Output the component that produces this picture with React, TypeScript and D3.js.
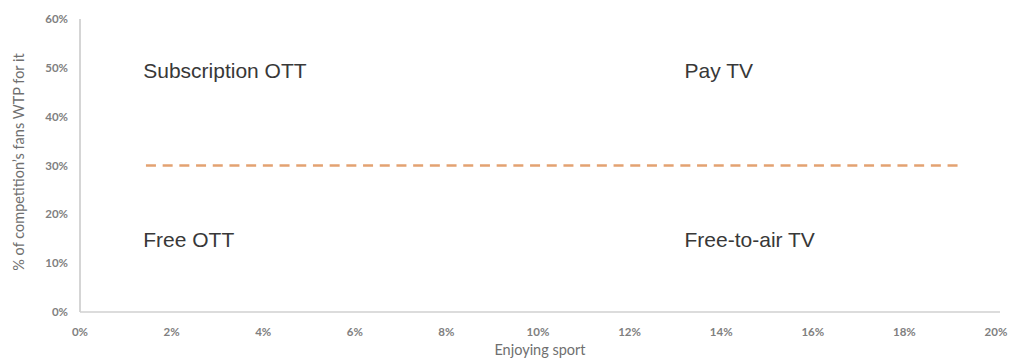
import React from "react";
import * as d3 from "d3";

const xTicks = [0, 0.02, 0.04, 0.06, 0.08, 0.1, 0.12, 0.14, 0.16, 0.18, 0.2];
const yTicks = [0, 0.1, 0.2, 0.3, 0.4, 0.5, 0.6];
const thresholdLine = [
  { x: 0.0144, y: 0.3 },
  { x: 0.192, y: 0.3 },
];
const quadrantLabels = ["Subscription OTT", "Pay TV", "Free OTT", "Free-to-air TV"];
const quadrantX = [0.0138, 0.132, 0.0138, 0.132];
const quadrantY = [0.479, 0.479, 0.133, 0.133];
const xTitle = "Enjoying sport";
const yTitle = "% of competition\u2019s fans WTP for it";

export default function App() {
  const W = 1016;
  const H = 361;
  const x = d3.scaleLinear().domain([0, 0.2]).range([80, 996]);
  const y = d3.scaleLinear().domain([0, 0.6]).range([312, 19]);
  const fmt = d3.format(".0%");
  const line = d3
    .line<{ x: number; y: number }>()
    .x((d) => x(d.x))
    .y((d) => y(d.y));
  const tickFont = "Lato, 'Open Sans', sans-serif";
  return (
    <svg
      width={W}
      height={H}
      style={{ position: "absolute", left: 0, top: 0, background: "#fff" }}
    >
      <line x1={x(0)} x2={x(0)} y1={y(0.6)} y2={y(0)} stroke="#bfbfbf" strokeWidth={1.3} />
      <line x1={x(0)} x2={1000} y1={y(0)} y2={y(0)} stroke="#d0d0d0" strokeWidth={1.3} />
      {yTicks.map((t) => (
        <text
          key={"y" + t}
          x={68}
          y={y(t)}
          dy="0.35em"
          textAnchor="end"
          fontFamily={tickFont}
          fontSize={11.5}
          fontWeight={700}
          fill="#808080"
        >
          {fmt(t)}
        </text>
      ))}
      {xTicks.map((t) => (
        <text
          key={"x" + t}
          x={x(t)}
          y={332}
          dy="0.35em"
          textAnchor="middle"
          fontFamily={tickFont}
          fontSize={11.5}
          fontWeight={700}
          fill="#808080"
        >
          {fmt(t)}
        </text>
      ))}
      <text
        x={540}
        y={350}
        dy="0.35em"
        textAnchor="middle"
        fontFamily={tickFont}
        fontSize={14.5}
        fill="#6f6f6f"
      >
        {xTitle}
      </text>
      <text
        transform={`translate(18.5,162) rotate(-90)`}
        dy="0.35em"
        textAnchor="middle"
        fontFamily={tickFont}
        fontSize={14.5}
        fill="#6f6f6f"
      >
        {yTitle}
      </text>
      <path
        d={line(thresholdLine) || ""}
        fill="none"
        stroke="#e3a272"
        strokeWidth={2.6}
        strokeDasharray="10 6.7"
      />
      {quadrantLabels.map((l, i) => (
        <text
          key={l}
          x={x(quadrantX[i])}
          y={y(quadrantY[i])}
          fontFamily="'Liberation Sans', Arial, sans-serif"
          fontSize={21}
          fill="#383838"
        >
          {l}
        </text>
      ))}
    </svg>
  );
}
